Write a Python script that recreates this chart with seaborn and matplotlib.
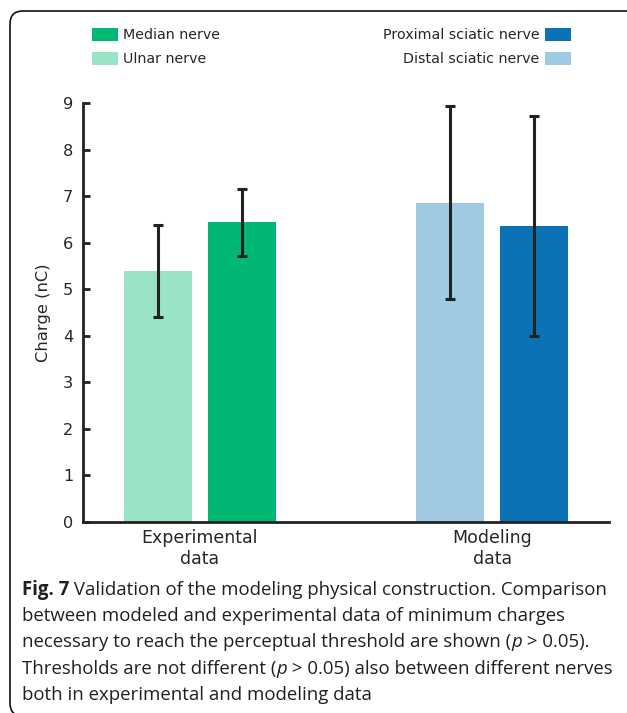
import numpy as np
import pandas as pd
import seaborn as sns
import matplotlib
matplotlib.use("Agg")
import matplotlib.pyplot as plt
from matplotlib.patches import Patch, FancyBboxPatch

# ---- data ----
groups = ["Experimental\ndata", "Experimental\ndata", "Modeling\ndata", "Modeling\ndata"]
slots = ["first", "second", "first", "second"]
nerves = ["Ulnar nerve", "Median nerve", "Distal sciatic nerve", "Proximal sciatic nerve"]
charge_mean = [5.39, 6.44, 6.86, 6.36]
charge_sd = [0.98, 0.72, 2.07, 2.37]
nerve_colors = {
    "Median nerve": "#00B773",
    "Ulnar nerve": "#99E3C6",
    "Proximal sciatic nerve": "#0B72B5",
    "Distal sciatic nerve": "#9FCAE2",
}
yticks = [0, 1, 2, 3, 4, 5, 6, 7, 8, 9]

df = pd.DataFrame({"group": groups, "slot": slots, "nerve": nerves,
                   "charge": charge_mean, "sd": charge_sd})

sns.set_theme(style="white")
plt.rcParams["font.family"] = ["DejaVu Sans"]

W, H = 627, 713
fig = plt.figure(figsize=(W / 100, H / 100), dpi=100)
ax = fig.add_axes([83 / W, 1 - 522 / H, (609 - 83) / W, (522 - 103) / H])

sns.barplot(data=df, x="group", y="charge", hue="slot", hue_order=["first", "second"],
            width=0.575, gap=0.19, errorbar=None, legend=False, saturation=1,
            palette=["#cccccc", "#cccccc"], ax=ax)

dark = "#222222"
for ci, slot in enumerate(["first", "second"]):
    cont = ax.containers[ci]
    sub = df[df["slot"] == slot].reset_index(drop=True)
    for bar, (_, row) in zip(cont, sub.iterrows()):
        bar.set_facecolor(nerve_colors[row["nerve"]])
        bar.set_edgecolor("none")
        cx = bar.get_x() + bar.get_width() / 2
        ax.errorbar(cx, row["charge"], yerr=row["sd"], fmt="none", ecolor=dark,
                    elinewidth=2.2, capsize=3.5, capthick=2.2, zorder=5)

ax.set_xlim(-0.4, 1.4)
ax.set_ylim(0, 9)
ax.set_yticks(yticks)
ax.set_xlabel("")
ax.set_ylabel("Charge (nC)", fontsize=11.8, color="#262626", labelpad=9)
for s in ["top", "right"]:
    ax.spines[s].set_visible(False)
for s in ["left", "bottom"]:
    ax.spines[s].set_color(dark)
    ax.spines[s].set_linewidth(2)
ax.tick_params(axis="y", direction="in", length=5, width=2, color=dark,
               labelsize=11.6, labelcolor="#262626", pad=7, left=True)
ax.tick_params(axis="x", length=0, labelsize=12.5, labelcolor="#262626", pad=5)

# legends
def handles(names):
    return [Patch(facecolor=nerve_colors[n], edgecolor="none", label=n) for n in names]

leg_kw = dict(frameon=False, fontsize=10.3, handlelength=1.8, handleheight=1.1,
              handletextpad=0.4, labelspacing=0.66, borderpad=0, borderaxespad=0)
leg1 = fig.legend(handles=handles(["Median nerve", "Ulnar nerve"]), loc="upper left",
                  bbox_to_anchor=(92 / W, 1 - 27.5 / H), **leg_kw)
leg2 = fig.legend(handles=handles(["Proximal sciatic nerve", "Distal sciatic nerve"]),
                  loc="upper right", bbox_to_anchor=(571 / W, 1 - 27.5 / H),
                  markerfirst=False, **leg_kw)
for leg in (leg1, leg2):
    for t in leg.get_texts():
        t.set_color("#262626")

# border box
box = FancyBboxPatch((10 / 100, -0.03), 6.6, (H - 11) / 100 + 0.03,
                     boxstyle="round,pad=0,rounding_size=0.13",
                     transform=fig.dpi_scale_trans, facecolor="none",
                     edgecolor="#111111", linewidth=1.2, clip_on=False)
fig.patches.append(box)

# caption
cap_font = ["Open Sans", "DejaVu Sans"]
cap_size = 13.4
cap_color = "#231F20"
lines = [
    [("Fig. 7", "bold"), (" Validation of the modeling physical construction. Comparison", "normal")],
    [("between modeled and experimental data of minimum charges", "normal")],
    [("necessary to reach the perceptual threshold are shown (", "normal"), ("p", "italic"),
     (" > 0.05).", "normal")],
    [("Thresholds are not different (", "normal"), ("p", "italic"),
     (" > 0.05) also between different nerves", "normal")],
    [("both in experimental and modeling data", "normal")],
]
renderer = fig.canvas.get_renderer()
y0 = 590
for li, pieces in enumerate(lines):
    x = 22
    y = y0 + li * 26.2
    for txt, sty in pieces:
        t = fig.text(x / W, 1 - y / H, txt, fontsize=cap_size, family=cap_font,
                     color=cap_color, va="center", ha="left",
                     fontweight="bold" if sty == "bold" else "normal",
                     fontstyle="italic" if sty == "italic" else "normal")
        bb = t.get_window_extent(renderer)
        x += bb.width

fig.savefig("out.png", dpi=100, facecolor="white")
